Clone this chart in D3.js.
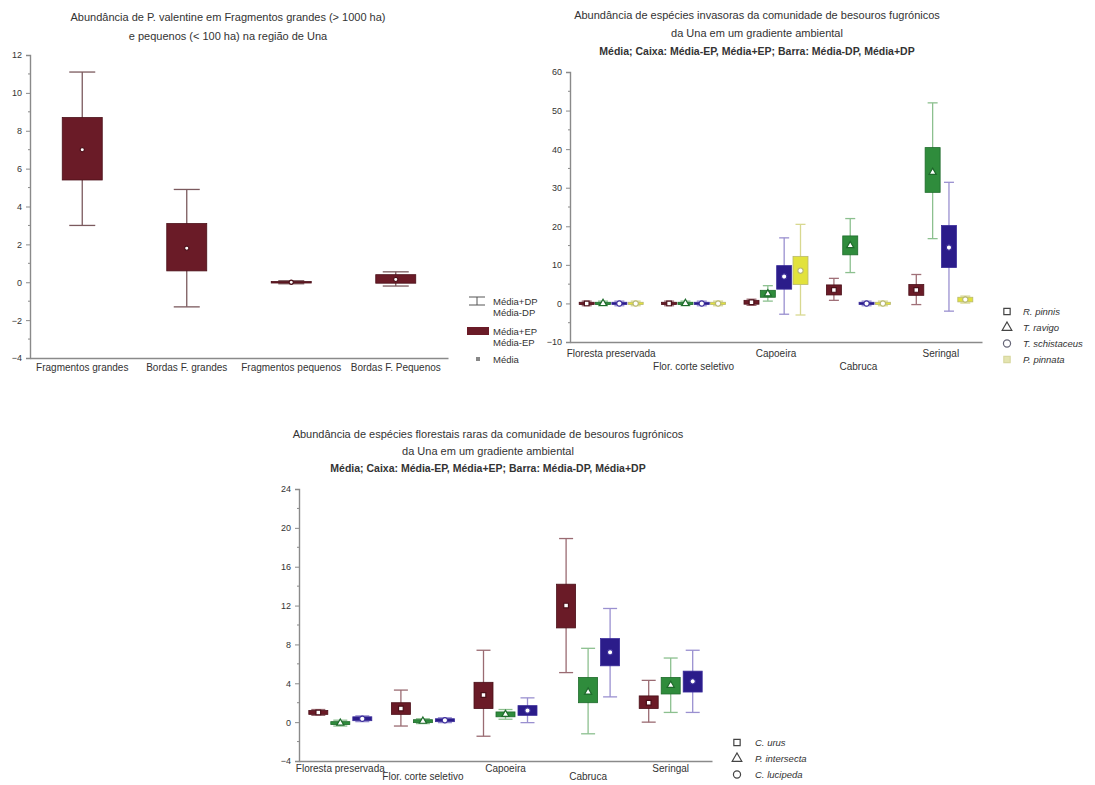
<!DOCTYPE html>
<html><head><meta charset="utf-8">
<script src="https://cdn.jsdelivr.net/npm/d3@7"></script>
<style>
body{margin:0;background:#fff;}
svg text{font-family:"Liberation Sans",Arial,sans-serif;fill:#333;}
</style></head>
<body><svg id="c" width="1095" height="785"></svg>
<script>
// ---------- Panel 1 data ----------
const p1Categories = ["Fragmentos grandes","Bordas F. grandes","Fragmentos pequenos","Bordas F. Pequenos"];
const p1Mean  = [7.0, 1.8, 0.0, 0.15];
const p1EpLo  = [5.4, 0.6, -0.04, -0.05];
const p1EpHi  = [8.7, 3.1, 0.04, 0.4];
const p1DpLo  = [3.0, -1.3, -0.08, -0.2];
const p1DpHi  = [11.1, 4.9, 0.08, 0.55];
const p1Ticks = [12,10,8,6,4,2,0,-2,-4];
const p1Title = ["Abundância de  P. valentine  em Fragmentos grandes (> 1000 ha)","e pequenos (< 100 ha) na região de Una"];

// ---------- Panel 2 data ----------
const p2Categories = ["Floresta preservada","Flor. corte seletivo","Capoeira","Cabruca","Seringal"];
const p2Names = ["R. pinnis","T. ravigo","T. schistaceus","P. pinnata"];
const p2S1Mean=[0,0,0.3,3.5,3.5],  p2S1EpLo=[-0.3,-0.3,-0.2,2.2,2.1],  p2S1EpHi=[0.3,0.3,0.8,4.8,4.9],  p2S1DpLo=[-0.6,-0.6,-0.5,0.8,-0.3], p2S1DpHi=[0.6,0.6,1.1,6.5,7.5];
const p2S2Mean=[0,0,2.5,15,34],    p2S2EpLo=[-0.3,-0.3,1.6,12.6,28.8], p2S2EpHi=[0.3,0.3,3.4,17.5,40.4], p2S2DpLo=[-0.6,-0.6,0.6,8,16.8], p2S2DpHi=[0.6,0.6,4.6,22,52];
const p2S3Mean=[0,0,7,0,14.5],     p2S3EpLo=[-0.3,-0.3,3.7,-0.3,9.3], p2S3EpHi=[0.3,0.3,9.8,0.3,20.2], p2S3DpLo=[-0.6,-0.6,-2.8,-0.6,-2], p2S3DpHi=[0.6,0.6,17,0.6,31.4];
const p2S4Mean=[0,0,8.5,0,1],      p2S4EpLo=[-0.3,-0.3,4.9,-0.3,0.4], p2S4EpHi=[0.3,0.3,12.2,0.3,1.6], p2S4DpLo=[-0.6,-0.6,-3,-0.6,0.1], p2S4DpHi=[0.6,0.6,20.5,0.6,1.9];
const p2Ticks = [60,50,40,30,20,10,0,-10];
const p2Title = ["Abundância de espécies invasoras da comunidade de besouros fugrónicos","da Una em um gradiente ambiental","Média; Caixa: Média-EP, Média+EP; Barra: Média-DP, Média+DP"];

// ---------- Panel 3 data ----------
const p3Categories = ["Floresta preservada","Flor. corte seletivo","Capoeira","Cabruca","Seringal"];
const p3Names = ["C. urus","P. intersecta","C. lucipeda"];
const p3S1Mean=[1.0,1.4,2.8,12.0,2.0], p3S1EpLo=[0.8,0.8,1.4,9.7,1.4], p3S1EpHi=[1.2,2.0,4.1,14.2,2.7], p3S1DpLo=[0.7,-0.4,-1.45,5.1,0], p3S1DpHi=[1.3,3.3,7.4,18.9,4.3];
const p3S2Mean=[-0.1,0.1,0.8,3.1,3.8], p3S2EpLo=[-0.25,-0.05,0.55,2.0,2.9], p3S2EpHi=[0.05,0.25,1.05,4.6,4.6], p3S2DpLo=[-0.4,-0.15,0.3,-1.2,1.0], p3S2DpHi=[0.2,0.35,1.3,7.6,6.6];
const p3S3Mean=[0.35,0.2,1.2,7.2,4.2], p3S3EpLo=[0.15,0.05,0.7,5.8,3.1], p3S3EpHi=[0.55,0.35,1.7,8.6,5.25], p3S3DpLo=[0.05,-0.05,-0.05,2.6,1.0], p3S3DpHi=[0.65,0.45,2.5,11.7,7.4];
const p3Ticks = [24,20,16,12,8,4,0,-4];
const p3Title = ["Abundância de espécies florestais raras da comunidade de besouros fugrónicos","da Una em um gradiente ambiental","Média; Caixa: Média-EP, Média+EP; Barra: Média-DP, Média+DP"];

const legendBoxLabels = ["Média+DP","Média-DP","Média+EP","Média-EP","Média"];

// colours
const MAROON="#6a1b27", GREEN="#2f8c3c", BLUE="#2b1c8a", YELLOW="#e2e23c";
const svg = d3.select("#c");

function pack(cats,mean,lo,hi,dlo,dhi){
  return cats.map((c,i)=>({cat:c,mean:mean[i],epLo:lo[i],epHi:hi[i],dpLo:dlo[i],dpHi:dhi[i]}));
}
function symbolPath(shape,size){
  const t = shape==="square"?d3.symbolSquare:shape==="triangle"?d3.symbolTriangle:d3.symbolCircle;
  return d3.symbol().type(t).size(size)();
}

function drawPanel(o){
  const g = svg.append("g");
  const y = d3.scaleLinear().domain(o.domain).range([o.yBottom,o.yTop]);
  const x = d3.scaleBand().domain(o.categories).range([o.x0,o.x1]);
  const inner = d3.scalePoint().domain(o.series.map(s=>s.name)).range([-o.spread,o.spread]);
  const ya = d3.axisLeft(y).tickValues(o.ticks).tickSize(4).tickPadding(4);
  const yg = g.append("g").attr("transform",`translate(${o.x0},0)`).call(ya);
  yg.select(".domain").attr("stroke","#8a8a8a").attr("stroke-width",1.4);
  yg.selectAll(".tick line").attr("stroke","#8a8a8a");
  yg.selectAll(".tick text").attr("font-size",9).attr("fill","#333");
  const minor=[];
  for(let i=0;i<o.ticks.length-1;i++){minor.push((o.ticks[i]+o.ticks[i+1])/2);}
  g.selectAll(".mn").data(minor).enter().append("line")
    .attr("x1",o.x0-2).attr("x2",o.x0).attr("y1",d=>y(d)).attr("y2",d=>y(d)).attr("stroke","#8a8a8a");
  const xa = d3.axisBottom(x).tickSize(0).tickPadding(o.xPad);
  const xg = g.append("g").attr("transform",`translate(0,${o.yBottom})`).call(xa);
  xg.select(".domain").attr("stroke","#8a8a8a").attr("stroke-width",1.4);
  xg.selectAll(".tick text").attr("font-size",10).attr("fill","#333")
    .attr("dy",(d,i)=> (o.stagger && i%2===1) ? o.row2 : "0.71em");
  o.series.forEach(s=>{
    const data = s.data;
    const cx = d=>x(d.cat)+x.bandwidth()/2+inner(s.name);
    const sg = g.append("g");
    sg.selectAll(".wh").data(data).enter().append("line")
      .attr("x1",cx).attr("x2",cx).attr("y1",d=>y(d.dpLo)).attr("y2",d=>y(d.dpHi))
      .attr("stroke",s.whisker).attr("stroke-width",1.3);
    ["dpLo","dpHi"].forEach(k=>{
      sg.selectAll(".cap"+k).data(data).enter().append("line")
        .attr("x1",d=>cx(d)-o.capW/2).attr("x2",d=>cx(d)+o.capW/2)
        .attr("y1",d=>y(d[k])).attr("y2",d=>y(d[k]))
        .attr("stroke",s.whisker).attr("stroke-width",1.3);
    });
    sg.selectAll(".bx").data(data).enter().append("rect")
      .attr("x",d=>cx(d)-o.boxW/2).attr("width",o.boxW)
      .attr("y",d=>y(d.epHi)).attr("height",d=>Math.max(1.5,y(d.epLo)-y(d.epHi)))
      .attr("fill",s.color).attr("stroke",s.edge).attr("stroke-width",0.8);
    sg.selectAll(".mk").data(data).enter().append("path")
      .attr("transform",d=>`translate(${cx(d)},${y(d.mean)})`)
      .attr("d",symbolPath(s.shape,o.markSize))
      .attr("fill","#fff").attr("stroke",s.edge).attr("stroke-width",1.2);
  });
  o.title.forEach((t,i)=>{
    g.append("text").attr("x",o.titleX).attr("y",o.titleY+i*o.titleGap)
      .attr("text-anchor","middle").attr("font-size",i===2?10.5:11)
      .attr("font-weight",i===2?"bold":"normal").attr("fill","#333").text(t);
  });
  return {x,y};
}

// Panel 1
drawPanel({
  x0:30,x1:448,yTop:55,yBottom:358,domain:[-4,12],ticks:p1Ticks,categories:p1Categories,
  series:[{name:"a",color:MAROON,edge:"#4a0f18",whisker:"#7b5a5e",shape:"circle",
    data:pack(p1Categories,p1Mean,p1EpLo,p1EpHi,p1DpLo,p1DpHi)}],
  spread:0,boxW:40,capW:26,markSize:14,stagger:false,xPad:6,row2:"2.0em",
  title:p1Title,titleX:228,titleY:21,titleGap:19,
});

// Panel 2
drawPanel({
  x0:570,x1:982,yTop:72,yBottom:342,domain:[-10,60],ticks:p2Ticks,categories:p2Categories,
  series:[
    {name:p2Names[0],color:MAROON,edge:"#4a0f18",whisker:"#a07078",shape:"square",data:pack(p2Categories,p2S1Mean,p2S1EpLo,p2S1EpHi,p2S1DpLo,p2S1DpHi)},
    {name:p2Names[1],color:GREEN,edge:"#1d6a2a",whisker:"#8cc08f",shape:"triangle",data:pack(p2Categories,p2S2Mean,p2S2EpLo,p2S2EpHi,p2S2DpLo,p2S2DpHi)},
    {name:p2Names[2],color:BLUE,edge:"#3a2c9a",whisker:"#9a90d0",shape:"circle",data:pack(p2Categories,p2S3Mean,p2S3EpLo,p2S3EpHi,p2S3DpLo,p2S3DpHi)},
    {name:p2Names[3],color:YELLOW,edge:"#b8b870",whisker:"#d8d890",shape:"circle",data:pack(p2Categories,p2S4Mean,p2S4EpLo,p2S4EpHi,p2S4DpLo,p2S4DpHi)}
  ],
  spread:24.5,boxW:15,capW:10,markSize:22,stagger:true,xPad:8,row2:"2.0em",
  title:p2Title,titleX:757,titleY:19,titleGap:18
});

// Panel 3
drawPanel({
  x0:299,x1:712,yTop:489,yBottom:761,domain:[-4,24],ticks:p3Ticks,categories:p3Categories,
  series:[
    {name:p3Names[0],color:MAROON,edge:"#4a0f18",whisker:"#9a6b72",shape:"square",data:pack(p3Categories,p3S1Mean,p3S1EpLo,p3S1EpHi,p3S1DpLo,p3S1DpHi)},
    {name:p3Names[1],color:GREEN,edge:"#1d6a2a",whisker:"#8cc08f",shape:"triangle",data:pack(p3Categories,p3S2Mean,p3S2EpLo,p3S2EpHi,p3S2DpLo,p3S2DpHi)},
    {name:p3Names[2],color:BLUE,edge:"#3a2c9a",whisker:"#9a90d0",shape:"circle",data:pack(p3Categories,p3S3Mean,p3S3EpLo,p3S3EpHi,p3S3DpLo,p3S3DpHi)}
  ],
  spread:22,boxW:19,capW:14,markSize:22,stagger:true,xPad:4,row2:"1.45em",
  title:p3Title,titleX:488,titleY:438,titleGap:17
});

// Shared box legend (between panels 1 and 2)
const lg = svg.append("g");
lg.append("line").attr("x1",477).attr("x2",477).attr("y1",297).attr("y2",305).attr("stroke","#555");
lg.append("line").attr("x1",469).attr("x2",485).attr("y1",297).attr("y2",297).attr("stroke","#555");
lg.append("line").attr("x1",469).attr("x2",485).attr("y1",305).attr("y2",305).attr("stroke","#555");
lg.append("rect").attr("x",467).attr("y",327).attr("width",22).attr("height",8).attr("fill",MAROON);
lg.append("rect").attr("x",476).attr("y",357).attr("width",4).attr("height",4).attr("fill","#888");
const lgY=[305,316,335,346,363];
lg.selectAll("text").data(legendBoxLabels).enter().append("text")
  .attr("x",493).attr("y",(d,i)=>lgY[i]).attr("font-size",9.5).attr("fill","#333").text(d=>d);

// Panel 2 species legend
const p2Shapes=["square","triangle","circle","square"], p2Cols=["#444","#444","#667","#d8d8a0"];
const l2=svg.append("g");
p2Names.forEach((n,i)=>{
  const yy=315+i*16;
  l2.append("path").attr("transform",`translate(1007,${yy-3.5})`).attr("d",symbolPath(p2Shapes[i],40))
    .attr("fill",i===3?"#e4e4b0":"#fff").attr("stroke",p2Cols[i]).attr("stroke-width",1.2);
  l2.append("text").attr("x",1023).attr("y",yy).attr("font-size",9.5).attr("fill","#333").attr("font-style","italic").text(n);
});
// Panel 3 species legend
const p3Shapes=["square","triangle","circle"];
const l3=svg.append("g");
p3Names.forEach((n,i)=>{
  const yy=746+i*16;
  l3.append("path").attr("transform",`translate(737,${yy-3.5})`).attr("d",symbolPath(p3Shapes[i],40))
    .attr("fill","#fff").attr("stroke","#444").attr("stroke-width",1.2);
  l3.append("text").attr("x",755).attr("y",yy).attr("font-size",9.5).attr("fill","#333").attr("font-style","italic").text(n);
});
</script></body></html>
